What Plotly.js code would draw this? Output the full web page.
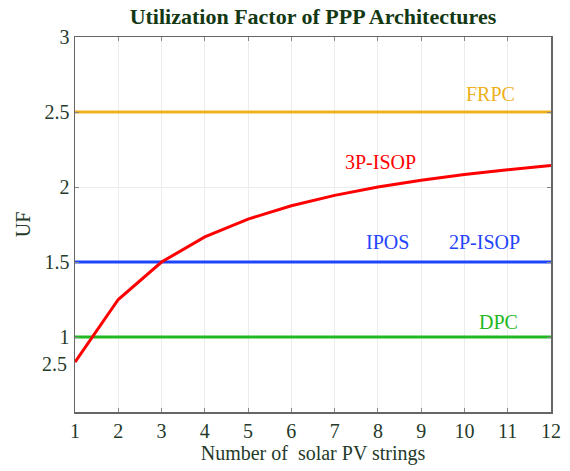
<!DOCTYPE html>
<html>
<head>
<meta charset="utf-8">
<script src="https://cdn.plot.ly/plotly-3.0.1.min.js"></script>
<style>html,body{margin:0;padding:0;background:#fff;}#chart{width:570px;height:471px;}</style>
</head>
<body>
<div id="chart"></div>
<script>
const strings = [1,2,3,4,5,6,7,8,9,10,11,12];
const uf3pIsop = [0.833,1.25,1.5,1.667,1.786,1.875,1.944,2.0,2.045,2.083,2.115,2.143];
const ufFrpc = [2.5,2.5,2.5,2.5,2.5,2.5,2.5,2.5,2.5,2.5,2.5,2.5];
const ufIpos = [1.5,1.5,1.5,1.5,1.5,1.5,1.5,1.5,1.5,1.5,1.5,1.5];
const ufDpc = [1,1,1,1,1,1,1,1,1,1,1,1];
const yTicks = [1,1.5,2,2.5,3];
const yTickText = ['1','1.5','2','2.5','3'];
const strayLabel = {text:'2.5', y:0.82};

const font = 'Liberation Serif';
const txt = '#253a2a';
const fs = 20;
const traces = [
  {x:strings, y:ufFrpc, mode:'lines', line:{color:'#EDB120', width:3}, name:'FRPC'},
  {x:strings, y:ufIpos, mode:'lines', line:{color:'#1F45FC', width:3}, name:'IPOS'},
  {x:strings, y:ufDpc, mode:'lines', line:{color:'#22B822', width:3}, name:'DPC'},
  {x:strings, y:uf3pIsop, mode:'lines', line:{color:'#FF0000', width:3}, name:'3P-ISOP'}
];
const layout = {
  width:570, height:471,
  margin:{l:75, r:19, t:37, b:59},
  paper_bgcolor:'#fff', plot_bgcolor:'#fff',
  showlegend:false,
  font:{family:font, color:txt, size:fs},
  title:{text:'<b>Utilization Factor of PPP Architectures</b>', font:{family:font, size:22, color:'#133813'}, x:0.549, xanchor:'center', y:0.982, yanchor:'top'},
  xaxis:{range:[1,12], tickvals:strings, showgrid:true, gridcolor:'#ececec', gridwidth:1,
    zeroline:false, showline:true, linecolor:'#666', linewidth:1.5, mirror:'ticks', ticks:'inside', ticklen:4, tickcolor:'#888',
    tickfont:{family:font, size:fs, color:txt},
    title:{text:'Number of  solar PV strings', font:{family:font, size:fs, color:txt}, standoff:5}},
  yaxis:{range:[0.5,3], tickvals:yTicks, ticktext:yTickText, showgrid:true, gridcolor:'#ececec', gridwidth:1,
    zeroline:false, showline:true, linecolor:'#666', linewidth:1.5, mirror:'ticks', ticks:'inside', ticklen:4, tickcolor:'#888',
    tickfont:{family:font, size:fs, color:txt},
    title:{text:'UF', font:{family:font, size:fs, color:txt}, standoff:8}},
  annotations:[
    {text:strayLabel.text, xref:'paper', x:0, xanchor:'right', xshift:-6, yref:'y', y:strayLabel.y, showarrow:false, font:{family:font, size:fs, color:txt}},
    {text:'FRPC', x:10.6, y:2.5, yshift:18, xanchor:'center', showarrow:false, font:{family:font, size:fs, color:'#EDB120'}},
    {text:'3P-ISOP', x:8.05, y:2.17, xanchor:'center', showarrow:false, font:{family:font, size:fs, color:'#FF0000'}},
    {text:'IPOS', x:8.23, y:1.5, yshift:20, xanchor:'center', showarrow:false, font:{family:font, size:fs, color:'#1F45FC'}},
    {text:'2P-ISOP', x:10.47, y:1.5, yshift:20, xanchor:'center', showarrow:false, font:{family:font, size:fs, color:'#1F45FC'}},
    {text:'DPC', x:10.78, y:1, yshift:15, xanchor:'center', showarrow:false, font:{family:font, size:fs, color:'#22B822'}}
  ]
};
Plotly.newPlot('chart', traces, layout, {displayModeBar:false, staticPlot:true});
</script>
</body>
</html>
